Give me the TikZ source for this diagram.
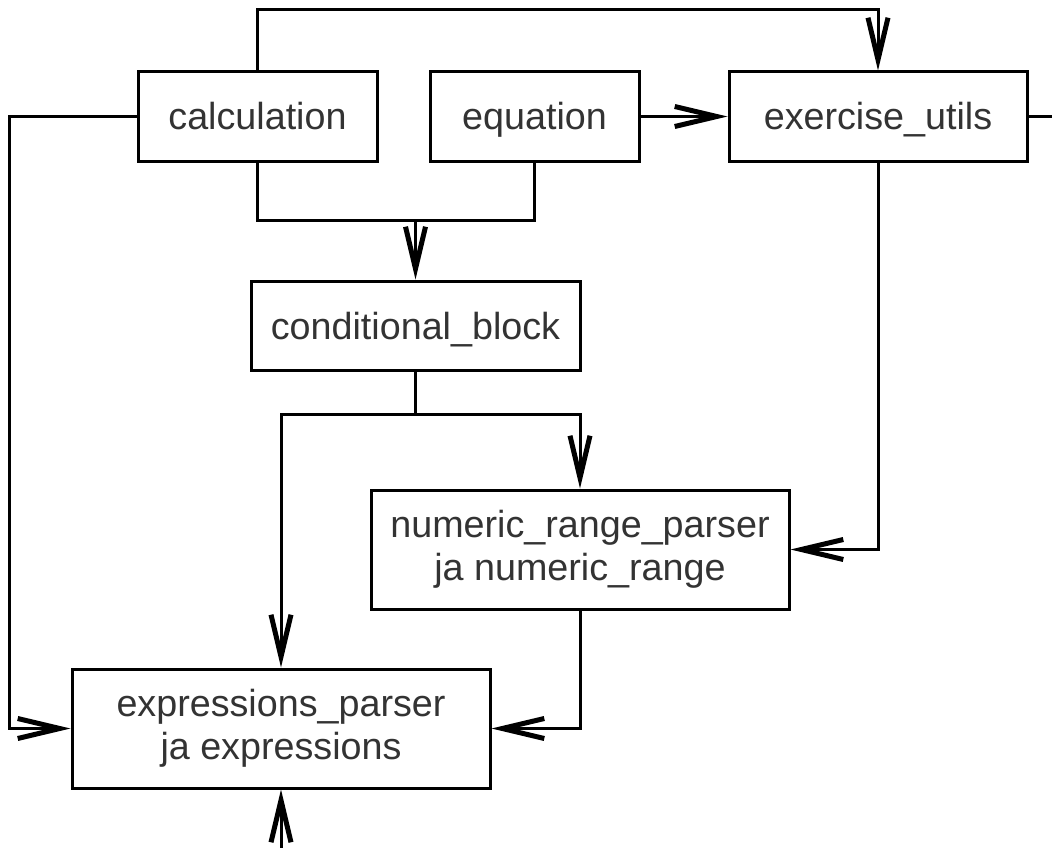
\documentclass[tikz,border=0pt]{standalone}
\usepackage{fontspec}
\setmainfont{Liberation Sans}
\usetikzlibrary{arrows.meta}
\definecolor{txt}{HTML}{333333}
\newcommand{\topstrut}{\rule{0pt}{35pt}}
\newcommand{\tallstrut}{\rule{0pt}{42pt}}
\newcommand{\botstrut}{\rule[-8pt]{0pt}{8pt}}
\tikzset{
  box/.style={draw=black, line width=3pt, fill=white, text=txt, align=center,
    font=\fontsize{37.7}{43}\selectfont, inner sep=0pt,
    execute at begin node=\topstrut, execute at end node=\botstrut},
  twoline/.style={execute at begin node=\tallstrut},
  link/.style={line width=3pt, draw=black},
  arr/.style={link, -{Straight Barb[length=42pt,width=20pt,line width=5pt]}}
}
\begin{document}
\begin{tikzpicture}[x=1pt,y=-1pt]
\useasboundingbox (0,0) rectangle (1052,848);
\node[box, minimum width=239pt, minimum height=89pt] (calc) at (257.5,116.5) {calculation};
\node[box, minimum width=209pt, minimum height=89pt] (eq) at (534.5,116.5) {equation};
\node[box, minimum width=298pt, minimum height=89pt] (exu) at (878,116.5) {exercise\_utils};
\node[box, minimum width=329pt, minimum height=89pt] (cond) at (415.5,325.5) {conditional\_block};
\node[box, twoline, minimum width=418pt, minimum height=119pt] (num) at (580,549.5) {numeric\_range\_parser\\ja numeric\_range};
\node[box, twoline, minimum width=418pt, minimum height=119pt] (exp) at (281,728.5) {expressions\_parser\\ja expressions};
\coordinate (rout) at (1052,116.5);
\coordinate (bin) at (281,848);
\coordinate (j1) at (415.5,220);
\coordinate (j2) at (415.5,414);
\draw[arr] (calc.north) -- ++(0,-61) -| (exu.north);
\draw[arr] (calc.west) -- ++(-127,0) |- (exp.west);
\draw[arr] (eq.east) -- (exu.west);
\draw[link] (exu.east) -- (rout);
\draw[link] (calc.south) |- (j1);
\draw[link] (eq.south) |- (j1);
\draw[arr] (j1) -- (cond.north);
\draw[link] (cond.south) -- (j2);
\draw[arr] (j2) -| (exp.north);
\draw[arr] (j2) -| (num.north);
\draw[arr] (exu.south) |- (num.east);
\draw[arr] (num.south) |- (exp.east);
\draw[arr] (bin) -- (exp.south);
\end{tikzpicture}
\end{document}
